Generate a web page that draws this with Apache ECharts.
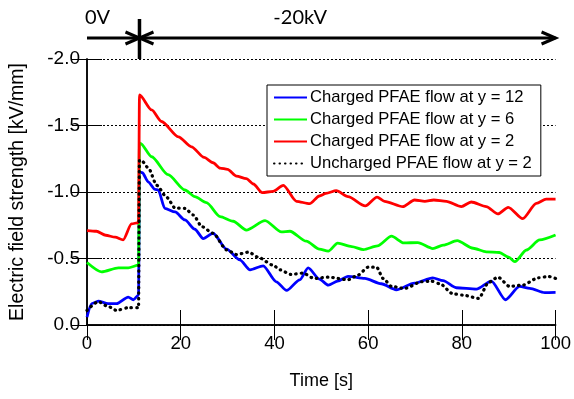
<!DOCTYPE html>
<html><head><meta charset="utf-8">
<script src="https://cdn.jsdelivr.net/npm/echarts@6/dist/echarts.min.js"></script>
<style>html,body{margin:0;padding:0;background:#fff}#c{width:574px;height:399px}</style>
</head><body><div id="c"></div>
<script>
const seriesNames = ['Charged PFAE flow at y = 12','Charged PFAE flow at y = 6','Charged PFAE flow at y = 2','Uncharged PFAE flow at y = 2'];
const seriesColors = ['#0000ff','#00ff00','#ff0000','#000000'];

const blueT = [0,1,2.4,4.5,6.3,8.8,9.9,11,11.2,11.8,13.1,14.5,15.2,16.6,18.8,20.9,23,24.8,26.9,29.8,32.6,34.8,37.6,40.4,42.6,45.4,47.2,49.6,51.5,53.5,55.7,59.3,62.8,66,69.9,73.8,76,78.8,83.1,86.3,89.3,92.3,94.5,97.7,100];
const blueV = [-0.06,-0.16,-0.18,-0.16,-0.16,-0.21,-0.19,-0.225,-1.15,-1.145,-1.075,-1.02,-1.015,-0.877,-0.85,-0.79,-0.72,-0.65,-0.69,-0.57,-0.49,-0.415,-0.445,-0.325,-0.26,-0.34,-0.43,-0.345,-0.3,-0.33,-0.365,-0.35,-0.31,-0.265,-0.315,-0.355,-0.333,-0.28,-0.27,-0.33,-0.19,-0.29,-0.275,-0.243,-0.245];

const greenT = [0,3.1,6.7,8.8,11,11.2,11.4,13.8,17.3,20.9,23,25.5,28.4,31.2,34,38,41.5,43.3,46.8,49.6,51.5,53.5,56.5,59,62,65,67.6,70.6,73.8,76,79,82.4,85.2,88,90,91.3,93.8,96.6,100];
const greenV = [-0.47,-0.40,-0.43,-0.43,-0.45,-1.37,-1.366,-1.265,-1.13,-1.015,-0.965,-0.92,-0.815,-0.78,-0.714,-0.785,-0.70,-0.705,-0.63,-0.57,-0.555,-0.615,-0.59,-0.567,-0.595,-0.668,-0.617,-0.62,-0.575,-0.60,-0.634,-0.577,-0.55,-0.545,-0.51,-0.476,-0.564,-0.64,-0.677];

const redT = [0,2,4,6,7.7,9.5,11,11.2,13.8,15.9,19.5,22.3,25,26.9,28.4,30,31.9,34,35.5,37.4,39.7,41.9,44.7,47.5,49.6,51,53.2,55.7,59.4,61.9,63.5,67.4,69.9,72.1,74,76.7,79.9,82,85.2,87.7,89.9,93,95.9,98,100];
const redV = [-0.71,-0.705,-0.675,-0.66,-0.64,-0.76,-0.77,-1.73,-1.617,-1.53,-1.415,-1.34,-1.26,-1.22,-1.18,-1.17,-1.12,-1.10,-1.06,-0.995,-1.005,-1.05,-0.93,-0.912,-0.97,-0.99,-1.01,-0.965,-0.895,-0.962,-0.93,-0.89,-0.94,-0.93,-0.94,-0.93,-0.89,-0.925,-0.89,-0.835,-0.885,-0.80,-0.915,-0.946,-0.947];

const blackT = [0,2.4,4.5,6.3,8.8,11,11.2,11.8,13.1,14.9,17,18.8,20.9,22.7,24.5,26.9,29.8,31.9,34.5,36.5,39.7,41.2,43.5,46.1,48.5,51.5,55.7,57.8,60,61.8,63.2,65,67.8,71.4,73.5,75.3,78.1,80.2,83.6,85.7,87.7,90.2,93,96.3,98.5,100];
const blackV = [-0.11,-0.175,-0.14,-0.11,-0.13,-0.13,-1.24,-1.23,-1.18,-1.05,-0.96,-0.88,-0.877,-0.827,-0.74,-0.69,-0.565,-0.53,-0.548,-0.51,-0.45,-0.415,-0.38,-0.39,-0.35,-0.36,-0.34,-0.375,-0.435,-0.435,-0.35,-0.29,-0.275,-0.325,-0.33,-0.31,-0.235,-0.225,-0.2,-0.32,-0.36,-0.29,-0.30,-0.355,-0.365,-0.35];

const xMin = 0, xMax = 100, xStep = 20;
const yMin = -2, yMax = 0, yStep = 0.5;
const switchTime = 11.2;
const phaseLabels = ['0V', '-20kV'];
const phaseLabelPos = [0, 45.5];

const zip = (t, v) => t.map((x, i) => [x, v[i]]);
const allData = [zip(blueT, blueV), zip(greenT, greenV), zip(redT, redV), zip(blackT, blackV)];

const chart = echarts.init(document.getElementById('c'), null, {renderer: 'canvas'});
const arial = 'Liberation Sans, Arial, sans-serif';
const axisLine = {show: true, lineStyle: {color: '#000', width: 1.5}};
const dotted = [0.5, 5];
const series = [2, 1, 0, 3].map(i => ({
  name: seriesNames[i],
  type: 'line',
  data: allData[i],
  symbol: 'none',
  smooth: 0.25,
  smoothMonotone: 'x',
  z: 2 + i,
  lineStyle: i === 3
    ? {color: seriesColors[i], width: 3.2, type: dotted, cap: 'round'}
    : {color: seriesColors[i], width: 2.8},
  itemStyle: {color: seriesColors[i]}
}));

chart.setOption({
  animation: false,
  backgroundColor: '#fff',
  grid: {left: 87, right: 18, top: 59, bottom: 74},
  legend: {
    data: seriesNames,
    left: 267, top: 85, orient: 'vertical',
    backgroundColor: '#fff',
    borderColor: '#000', borderWidth: 1,
    padding: [4, 9, 4, 6], itemGap: 5, itemWidth: 33, itemHeight: 14,
    itemStyle: {opacity: 0},
    textStyle: {fontSize: 16.6, fontFamily: arial, color: '#000', padding: [0, 0, 0, -2]},
    z: 10
  },
  xAxis: [{
    type: 'value', min: xMin, max: xMax, interval: xStep,
    name: 'Time [s]', nameLocation: 'middle', nameGap: 47,
    nameTextStyle: {fontSize: 18, fontFamily: arial, color: '#000'},
    axisLine, axisTick: {inside: true, length: 15, lineStyle: {color: '#000', width: 1}},
    axisLabel: {fontSize: 18.5, fontFamily: arial, color: '#000', margin: 9},
    splitLine: {show: false}
  }, {
    type: 'value', position: 'top', min: xMin, max: xMax, interval: xStep,
    axisLine, axisTick: {inside: true, length: 15, lineStyle: {color: '#000', width: 1}},
    axisLabel: {show: false}, splitLine: {show: false}
  }],
  yAxis: [{
    type: 'value', min: yMin, max: yMax, interval: yStep, inverse: true,
    name: 'Electric field strength [kV/mm]', nameLocation: 'middle', nameGap: 59,
    nameTextStyle: {fontSize: 19.5, fontFamily: arial, color: '#000'},
    axisLine, axisTick: {inside: true, length: 15, lineStyle: {color: '#000', width: 1}},
    axisLabel: {fontSize: 19, fontFamily: arial, color: '#000', margin: 7, formatter: v => v.toFixed(1)},
    splitLine: {show: true, lineStyle: {color: '#000', width: 1, type: [2, 2]}}
  }, {
    type: 'value', position: 'right', min: yMin, max: yMax, interval: yStep, inverse: true,
    axisLine, axisTick: {inside: true, length: 15, lineStyle: {color: '#000', width: 1}},
    axisLabel: {show: false}, splitLine: {show: false}
  }],
  series
});

function drawAnnot() {
  const px = v => chart.convertToPixel({xAxisIndex: 0}, v);
  const x0 = px(xMin), xs = px(switchTime), x1 = px(xMax);
  const top = chart.convertToPixel({yAxisIndex: 0}, yMin);
  const ay = 38, ah = 6, al = 14;
  const stroke = {stroke: '#000', lineWidth: 3, fill: null};
  const font = '20px Lato, Carlito, sans-serif';
  chart.setOption({graphic: [
    {type: 'line', shape: {x1: x0, y1: ay, x2: x1, y2: ay}, style: stroke, silent: true},
    {type: 'polyline', shape: {points: [[xs - al, ay - ah], [xs, ay], [xs - al, ay + ah]]}, style: stroke, silent: true},
    {type: 'polyline', shape: {points: [[xs + al, ay - ah], [xs, ay], [xs + al, ay + ah]]}, style: stroke, silent: true},
    {type: 'polyline', shape: {points: [[x1 - al, ay - ah], [x1, ay], [x1 - al, ay + ah]]}, style: stroke, silent: true},
    {type: 'line', shape: {x1: xs, y1: 19, x2: xs, y2: top}, style: {stroke: '#000', lineWidth: 3.5}, silent: true},
    {type: 'text', x: px(phaseLabelPos[0]) - 2, y: 18, style: {text: phaseLabels[0], font, fill: '#000', textAlign: 'left', textVerticalAlign: 'middle'}, silent: true},
    {type: 'text', x: px(phaseLabelPos[1]), y: 18, style: {text: phaseLabels[1], font, fill: '#000', textAlign: 'center', textVerticalAlign: 'middle'}, silent: true}
  ]});
}
drawAnnot();
</script>
</body></html>
